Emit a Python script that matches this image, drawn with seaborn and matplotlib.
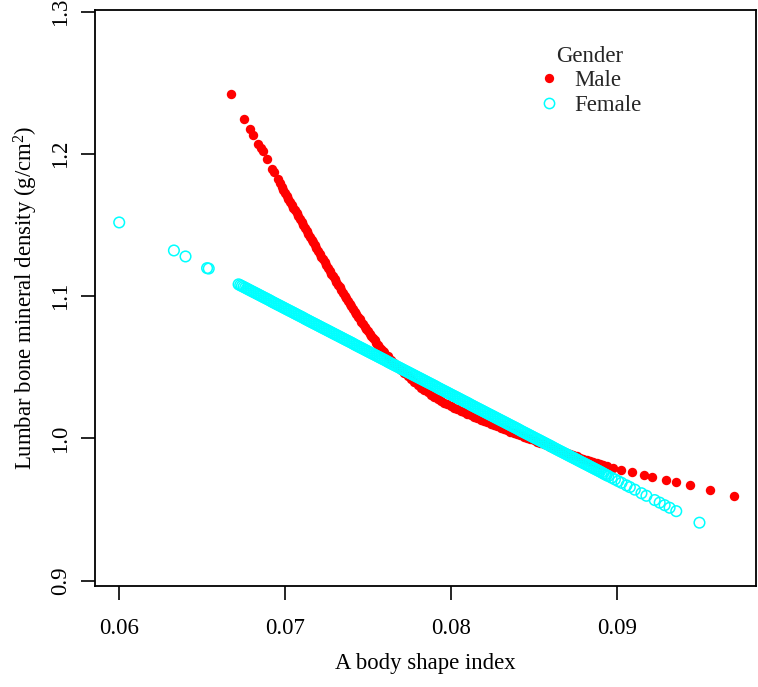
import matplotlib
matplotlib.use("Agg")
import matplotlib.pyplot as plt
from matplotlib.lines import Line2D
import seaborn as sns
import pandas as pd

# ---------------- data ----------------
male_x = [
    0.06674, 0.06753, 0.06787, 0.06809, 0.06839, 0.06855, 0.06869, 0.06890, 0.06920, 0.06932, 0.06955,
    0.0697, 0.0698, 0.0699, 0.0700, 0.0701, 0.0702, 0.0703, 0.0704, 0.0705, 0.0706,
    0.0707, 0.0708, 0.0709, 0.0710, 0.0711, 0.0712, 0.0713, 0.0714, 0.0715, 0.0716,
    0.0717, 0.0718, 0.0719, 0.0720, 0.0721, 0.0722, 0.0723, 0.0724, 0.0725, 0.0726,
    0.0727, 0.0728, 0.0729, 0.0730, 0.0731, 0.0732, 0.0733, 0.0734, 0.0735, 0.0736,
    0.0737, 0.0738, 0.0739, 0.0740, 0.0741, 0.0742, 0.0743, 0.0744, 0.0745, 0.0746,
    0.0747, 0.0748, 0.0749, 0.0750, 0.0751, 0.0752, 0.0753, 0.0754, 0.0755, 0.0756,
    0.0757, 0.0758, 0.0759,
    0.0760, 0.0762, 0.0764, 0.0766, 0.0768, 0.0770, 0.0772, 0.0774, 0.0776, 0.0778,
    0.0780, 0.0782, 0.0784, 0.0786, 0.0788, 0.0790, 0.0792, 0.0794, 0.0796, 0.0798,
    0.0800, 0.0802, 0.0804, 0.0806, 0.0808, 0.0810, 0.0812, 0.0814, 0.0816, 0.0818,
    0.0820, 0.0822, 0.0824, 0.0826, 0.0828, 0.0830, 0.0832, 0.0834, 0.0836, 0.0838,
    0.0840, 0.0842, 0.0844, 0.0846, 0.0848, 0.0850, 0.0852, 0.0854, 0.0856, 0.0858,
    0.0860, 0.0862, 0.0864, 0.0866, 0.0868, 0.0870, 0.0872, 0.0874, 0.0876, 0.0878,
    0.0880, 0.0882, 0.0884, 0.0886, 0.0888, 0.0890, 0.0892, 0.0894,
    0.08977, 0.09029, 0.09093, 0.09165, 0.09211, 0.09298, 0.09358, 0.09443, 0.09562, 0.09708,
]
male_y = [
    1.2418, 1.2245, 1.2174, 1.2134, 1.2071, 1.2042, 1.2017, 1.1963, 1.1893, 1.1870, 1.1820,
    1.1792, 1.1770, 1.1749, 1.1727, 1.1706, 1.1685, 1.1664, 1.1643, 1.1622, 1.1602,
    1.1581, 1.1561, 1.1540, 1.1520, 1.1500, 1.1479, 1.1459, 1.1438, 1.1418, 1.1398,
    1.1378, 1.1357, 1.1337, 1.1317, 1.1297, 1.1277, 1.1258, 1.1238, 1.1218, 1.1198,
    1.1179, 1.1159, 1.1140, 1.1120, 1.1101, 1.1081, 1.1062, 1.1042, 1.1023, 1.1004,
    1.0985, 1.0966, 1.0947, 1.0928, 1.0910, 1.0892, 1.0873, 1.0855, 1.0837, 1.0820,
    1.0803, 1.0786, 1.0769, 1.0752, 1.0736, 1.0721, 1.0705, 1.0690, 1.0674, 1.0660,
    1.0646, 1.0632, 1.0618,
    1.0604, 1.0578, 1.0553, 1.0528, 1.0505, 1.0481, 1.0459, 1.0437, 1.0416, 1.0396,
    1.0376, 1.0358, 1.0340, 1.0323, 1.0307, 1.0291, 1.0277, 1.0264, 1.0251, 1.0239,
    1.0227, 1.0216, 1.0205, 1.0195, 1.0184, 1.0173, 1.0163, 1.0153, 1.0142, 1.0132,
    1.0122, 1.0113, 1.0103, 1.0094, 1.0084, 1.0075, 1.0066, 1.0057, 1.0048, 1.0039,
    1.0030, 1.0021, 1.0012, 1.0004, 0.9995, 0.9986, 0.9977, 0.9968, 0.9960, 0.9951,
    0.9942, 0.9933, 0.9925, 0.9916, 0.9908, 0.9899, 0.9891, 0.9883, 0.9874, 0.9866,
    0.9858, 0.9850, 0.9843, 0.9835, 0.9828, 0.9820, 0.9813, 0.9806,
    0.9794, 0.9780, 0.9766, 0.9741, 0.9731, 0.9705, 0.9696, 0.9670, 0.9640, 0.9599,
]

female_x = [
    0.0600, 0.0633, 0.0640, 0.0653, 0.0654,
    0.0672, 0.0673, 0.0674, 0.0675, 0.0676, 0.0677, 0.0678, 0.0679, 0.0680, 0.0681,
    0.0682, 0.0683, 0.0684, 0.0685, 0.0686, 0.0687, 0.0688, 0.0689, 0.0690, 0.0691,
    0.0692, 0.0693, 0.0694, 0.0695, 0.0696, 0.0697, 0.0698, 0.0699, 0.0700, 0.0701,
    0.0702, 0.0703, 0.0704, 0.0705, 0.0706, 0.0707, 0.0708, 0.0709, 0.0710, 0.0711,
    0.0712, 0.0713, 0.0714, 0.0715, 0.0716, 0.0717, 0.0718, 0.0719, 0.0720, 0.0721,
    0.0722, 0.0723, 0.0724, 0.0725, 0.0726, 0.0727, 0.0728, 0.0729, 0.0730, 0.0731,
    0.0732, 0.0733, 0.0734, 0.0735, 0.0736, 0.0737, 0.0738, 0.0739, 0.0740, 0.0741,
    0.0742, 0.0743, 0.0744, 0.0745, 0.0746, 0.0747, 0.0748, 0.0749, 0.0750, 0.0751,
    0.0752, 0.0753, 0.0754, 0.0755, 0.0756, 0.0757, 0.0758, 0.0759, 0.0760, 0.0761,
    0.0762, 0.0763, 0.0764, 0.0765, 0.0766, 0.0767, 0.0768, 0.0769, 0.0770, 0.0771,
    0.0772, 0.0773, 0.0774, 0.0775, 0.0776, 0.0777, 0.0778, 0.0779, 0.0780, 0.0781,
    0.0782, 0.0783, 0.0784, 0.0785, 0.0786, 0.0787, 0.0788, 0.0789, 0.0790, 0.0791,
    0.0792, 0.0793, 0.0794, 0.0795, 0.0796, 0.0797, 0.0798, 0.0799, 0.0800, 0.0801,
    0.0802, 0.0803, 0.0804, 0.0805, 0.0806, 0.0807, 0.0808, 0.0809, 0.0810, 0.0811,
    0.0812, 0.0813, 0.0814, 0.0815, 0.0816, 0.0817, 0.0818, 0.0819, 0.0820, 0.0821,
    0.0822, 0.0823, 0.0824, 0.0825, 0.0826, 0.0827, 0.0828, 0.0829, 0.0830, 0.0831,
    0.0832, 0.0833, 0.0834, 0.0835, 0.0836, 0.0837, 0.0838, 0.0839, 0.0840, 0.0841,
    0.0842, 0.0843, 0.0844, 0.0845, 0.0846, 0.0847, 0.0848, 0.0849, 0.0850, 0.0851,
    0.0852, 0.0853, 0.0854, 0.0855, 0.0856, 0.0857, 0.0858, 0.0859, 0.0860, 0.0861,
    0.0862, 0.0863, 0.0864, 0.0865, 0.0866, 0.0867, 0.0868, 0.0869, 0.0870, 0.0871,
    0.0872, 0.0873, 0.0874, 0.0875, 0.0876, 0.0877, 0.0878, 0.0879, 0.0880, 0.0881,
    0.0882, 0.0883, 0.0884, 0.0885, 0.0886, 0.0887, 0.0888, 0.0889, 0.0890, 0.0891,
    0.0892, 0.0893, 0.0894, 0.0895,
    0.0897, 0.0899, 0.0901, 0.0903, 0.0906, 0.0908, 0.0911, 0.0915, 0.0918, 0.0923,
    0.0926, 0.0929, 0.0932, 0.0936, 0.0950,
]
female_y = [
    1.1518, 1.1321, 1.1279, 1.1197, 1.1194,
    1.1083, 1.1077, 1.1071, 1.1065, 1.1059, 1.1053, 1.1047, 1.1041, 1.1035, 1.1029,
    1.1023, 1.1017, 1.1011, 1.1005, 1.0999, 1.0993, 1.0987, 1.0981, 1.0975, 1.0969,
    1.0962, 1.0956, 1.0950, 1.0944, 1.0938, 1.0932, 1.0926, 1.0920, 1.0914, 1.0908,
    1.0902, 1.0896, 1.0890, 1.0884, 1.0878, 1.0872, 1.0866, 1.0860, 1.0854, 1.0848,
    1.0841, 1.0835, 1.0829, 1.0823, 1.0817, 1.0811, 1.0805, 1.0799, 1.0793, 1.0787,
    1.0781, 1.0775, 1.0769, 1.0763, 1.0757, 1.0751, 1.0745, 1.0739, 1.0733, 1.0727,
    1.0721, 1.0715, 1.0709, 1.0703, 1.0697, 1.0691, 1.0685, 1.0679, 1.0673, 1.0667,
    1.0660, 1.0654, 1.0648, 1.0642, 1.0636, 1.0630, 1.0624, 1.0618, 1.0612, 1.0606,
    1.0600, 1.0594, 1.0588, 1.0582, 1.0576, 1.0570, 1.0564, 1.0558, 1.0552, 1.0546,
    1.0539, 1.0533, 1.0527, 1.0521, 1.0515, 1.0509, 1.0503, 1.0497, 1.0491, 1.0485,
    1.0479, 1.0473, 1.0467, 1.0461, 1.0455, 1.0449, 1.0443, 1.0437, 1.0431, 1.0425,
    1.0419, 1.0413, 1.0407, 1.0401, 1.0395, 1.0389, 1.0383, 1.0377, 1.0371, 1.0365,
    1.0358, 1.0352, 1.0346, 1.0340, 1.0334, 1.0328, 1.0322, 1.0316, 1.0310, 1.0304,
    1.0298, 1.0292, 1.0286, 1.0280, 1.0274, 1.0268, 1.0262, 1.0256, 1.0250, 1.0244,
    1.0237, 1.0231, 1.0225, 1.0219, 1.0213, 1.0207, 1.0201, 1.0195, 1.0189, 1.0183,
    1.0177, 1.0171, 1.0165, 1.0159, 1.0153, 1.0147, 1.0141, 1.0135, 1.0129, 1.0123,
    1.0117, 1.0111, 1.0105, 1.0099, 1.0093, 1.0087, 1.0081, 1.0075, 1.0069, 1.0063,
    1.0056, 1.0050, 1.0044, 1.0038, 1.0032, 1.0026, 1.0020, 1.0014, 1.0008, 1.0002,
    0.9996, 0.9990, 0.9984, 0.9978, 0.9972, 0.9966, 0.9960, 0.9954, 0.9948, 0.9942,
    0.9935, 0.9929, 0.9923, 0.9917, 0.9911, 0.9905, 0.9899, 0.9893, 0.9887, 0.9881,
    0.9875, 0.9869, 0.9863, 0.9857, 0.9851, 0.9845, 0.9839, 0.9833, 0.9827, 0.9821,
    0.9815, 0.9809, 0.9803, 0.9797, 0.9791, 0.9785, 0.9779, 0.9773, 0.9767, 0.9761,
    0.9754, 0.9748, 0.9742, 0.9736,
    0.9724, 0.9712, 0.9700, 0.9688, 0.9670, 0.9658, 0.9640, 0.9615, 0.9597, 0.9567,
    0.9549, 0.9531, 0.9513, 0.9489, 0.9408,
]

x_ticks = [0.06, 0.07, 0.08, 0.09]
x_tick_labels = ["0.06", "0.07", "0.08", "0.09"]
y_ticks = [0.9, 1.0, 1.1, 1.2, 1.3]
y_tick_labels = ["0.9", "1.0", "1.1", "1.2", "1.3"]
groups = ["Male", "Female"]

# ---------------- style ----------------
sns.set_theme(style="white")
plt.rcParams["font.family"] = ["Liberation Serif", "DejaVu Serif"]
plt.rcParams["mathtext.fontset"] = "custom"
plt.rcParams["mathtext.rm"] = "Liberation Serif"
plt.rcParams["mathtext.it"] = "Liberation Serif:italic"

FS = 16.4
W, H = 758, 687
fig = plt.figure(figsize=(W / 100, H / 100), dpi=100)
L, R, T, B = 95, 756, 10, 586
ax = fig.add_axes([L / W, 1 - B / H, (R - L) / W, (B - T) / H])

male_df = pd.DataFrame({"x": male_x, "y": male_y})
female_df = pd.DataFrame({"x": female_x, "y": female_y})

sns.scatterplot(data=male_df, x="x", y="y", ax=ax, color="#FF0000", s=46,
                linewidth=0, marker="o", legend=False, zorder=2)
sns.scatterplot(data=female_df, x="x", y="y", ax=ax, facecolor="none",
                edgecolor="#00FFFF", s=58, linewidth=1.1, marker="o",
                legend=False, zorder=3)

ax.set_xlim(0.05854, 0.09841)
ax.set_ylim(0.8963, 1.3011)
ax.set_xticks(x_ticks)
ax.set_xticklabels(x_tick_labels)
ax.set_yticks(y_ticks)
ax.set_yticklabels(y_tick_labels, rotation=90, va="center")

for sp in ax.spines.values():
    sp.set_visible(True)
    sp.set_color("black")
    sp.set_linewidth(1.3)

ax.tick_params(axis="x", direction="out", length=10, width=1.2, pad=13,
               labelsize=FS, colors="black", bottom=True)
ax.tick_params(axis="y", direction="out", length=10, width=1.2, pad=7,
               labelsize=FS, colors="black", left=True)
ax.grid(False)

ax.set_xlabel("A body shape index", fontsize=FS, color="black")
ax.set_ylabel(r"Lumbar bone mineral density (g/cm$^{2}$)", fontsize=FS, color="black")
ax.xaxis.set_label_coords(0.5, -0.117)
ax.yaxis.set_label_coords(-0.083, 0.5)

handles = [
    Line2D([], [], linestyle="none", marker="o", markersize=6.7,
           markerfacecolor="#FF0000", markeredgewidth=0),
    Line2D([], [], linestyle="none", marker="o", markersize=7.4,
           markerfacecolor="none", markeredgecolor="#00FFFF", markeredgewidth=1.1),
]
leg = ax.legend(handles, groups, title="Gender", frameon=False,
                loc="upper left", bbox_to_anchor=(537.6 / W, 1 - 46 / H),
                bbox_transform=fig.transFigure, fontsize=FS, title_fontsize=FS,
                handlelength=1.0, handletextpad=0.6, borderpad=0,
                borderaxespad=0, labelspacing=0.15)

fig.savefig("out.png", dpi=100, facecolor="white")
